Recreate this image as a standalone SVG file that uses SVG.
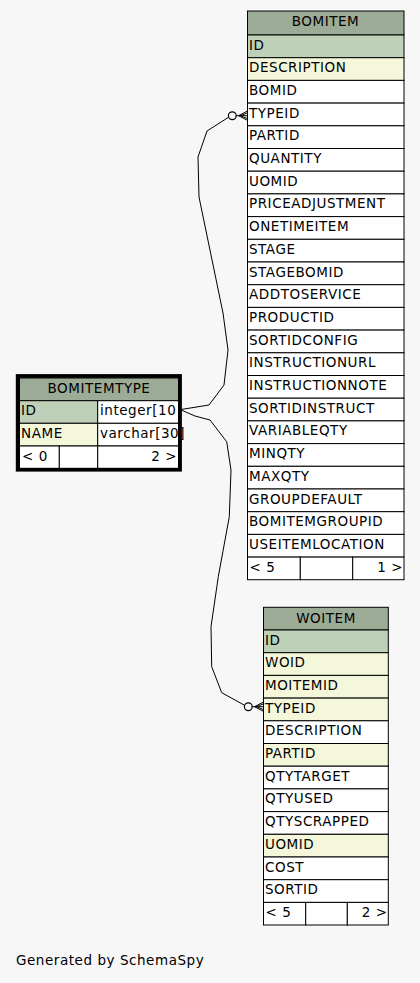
<svg xmlns="http://www.w3.org/2000/svg" width="420" height="983" viewBox="0 0 420 983">
<style>
text{font-family:"DejaVu Sans","Liberation Sans",sans-serif;font-size:13.5px;letter-spacing:0.55px;fill:#000}
.h{fill:#9cab96;stroke:#000;stroke-width:1}
.pk{fill:#bed1b8;stroke:#000;stroke-width:1}
.ix{fill:#f4f7da;stroke:#000;stroke-width:1}
.c{fill:#fff;stroke:#000;stroke-width:1}
.m{text-anchor:middle}
.e{text-anchor:end}
.edge{fill:none;stroke:#000;stroke-width:1;stroke-linejoin:round}
.dot{fill:none;stroke:#000;stroke-width:1.2}
</style>
<rect x="0" y="0" width="420" height="983" fill="#f7f7f7"/>

<g id="connectors">
<polyline class="edge" points="181,409.5 209,405 224,385 228,350 223,313 199,197 198,157 207,131 228.5,117.3"/>
<circle class="dot" cx="232.3" cy="115.7" r="3.9"/>
<path class="edge" d="M236.2,115.7 H238.5 M238.5,115.7 L247,111.3 M238.5,115.7 L247,115.7 M238.5,115.7 L247,120.1 M240.5,115.7 L247,113 M240.5,115.7 L247,118.4" stroke-width="1.3"/>
<polyline class="edge" points="181,410 195,416 210,420 226.7,441.7 231,470 229.3,516.7 218.3,576.7 211,626.7 211.7,666.7 221.7,692.7 244.6,705.3"/>
<circle class="dot" cx="248.3" cy="706.7" r="3.9"/>
<path class="edge" d="M252.2,706.7 H254.5 M254.5,706.7 L263,702.3 M254.5,706.7 L263,706.7 M254.5,706.7 L263,711.1 M256.5,706.7 L263,704 M256.5,706.7 L263,709.4" stroke-width="1.3"/>
</g>

<g id="BOMITEM">
<rect class="h" x="247.5" y="11" width="156.5" height="24"/>
<text class="m" x="325.5" y="26">BOMITEM</text>
<rect class="pk" x="247.5" y="35" width="156.5" height="22.7"/>
<text x="249" y="49.5">ID</text>
<rect class="ix" x="247.5" y="57.7" width="156.5" height="22.7"/>
<text x="249" y="72.2">DESCRIPTION</text>
<rect class="c" x="247.5" y="80.4" width="156.5" height="22.7"/>
<text x="249" y="94.9">BOMID</text>
<rect class="c" x="247.5" y="103.1" width="156.5" height="22.7"/>
<text x="249" y="117.6">TYPEID</text>
<rect class="c" x="247.5" y="125.8" width="156.5" height="22.7"/>
<text x="249" y="140.3">PARTID</text>
<rect class="c" x="247.5" y="148.5" width="156.5" height="22.7"/>
<text x="249" y="163">QUANTITY</text>
<rect class="c" x="247.5" y="171.2" width="156.5" height="22.7"/>
<text x="249" y="185.7">UOMID</text>
<rect class="c" x="247.5" y="193.9" width="156.5" height="22.7"/>
<text x="249" y="208.4">PRICEADJUSTMENT</text>
<rect class="c" x="247.5" y="216.6" width="156.5" height="22.7"/>
<text x="249" y="231.1">ONETIMEITEM</text>
<rect class="c" x="247.5" y="239.3" width="156.5" height="22.7"/>
<text x="249" y="253.8">STAGE</text>
<rect class="c" x="247.5" y="262" width="156.5" height="22.7"/>
<text x="249" y="276.5">STAGEBOMID</text>
<rect class="c" x="247.5" y="284.7" width="156.5" height="22.7"/>
<text x="249" y="299.2">ADDTOSERVICE</text>
<rect class="c" x="247.5" y="307.4" width="156.5" height="22.7"/>
<text x="249" y="321.9">PRODUCTID</text>
<rect class="c" x="247.5" y="330.1" width="156.5" height="22.7"/>
<text x="249" y="344.6">SORTIDCONFIG</text>
<rect class="c" x="247.5" y="352.8" width="156.5" height="22.7"/>
<text x="249" y="367.3">INSTRUCTIONURL</text>
<rect class="c" x="247.5" y="375.5" width="156.5" height="22.7"/>
<text x="249" y="390">INSTRUCTIONNOTE</text>
<rect class="c" x="247.5" y="398.2" width="156.5" height="22.7"/>
<text x="249" y="412.7">SORTIDINSTRUCT</text>
<rect class="c" x="247.5" y="420.9" width="156.5" height="22.7"/>
<text x="249" y="435.4">VARIABLEQTY</text>
<rect class="c" x="247.5" y="443.6" width="156.5" height="22.7"/>
<text x="249" y="458.1">MINQTY</text>
<rect class="c" x="247.5" y="466.3" width="156.5" height="22.7"/>
<text x="249" y="480.8">MAXQTY</text>
<rect class="c" x="247.5" y="489" width="156.5" height="22.7"/>
<text x="249" y="503.5">GROUPDEFAULT</text>
<rect class="c" x="247.5" y="511.7" width="156.5" height="22.7"/>
<text x="249" y="526.2">BOMITEMGROUPID</text>
<rect class="c" x="247.5" y="534.4" width="156.5" height="22.7"/>
<text x="249" y="548.9">USEITEMLOCATION</text>
<rect class="c" x="247.5" y="557.1" width="52.8" height="22.6"/>
<rect class="c" x="300.3" y="557.1" width="52.4" height="22.6"/>
<rect class="c" x="352.7" y="557.1" width="51.3" height="22.6"/>
<text x="249.5" y="571.6">&lt; 5</text>
<text class="e" x="403" y="571.6">1 &gt;</text>
</g>

<g id="BOMITEMTYPE">
<rect class="h" x="19.5" y="378" width="159" height="22.7"/>
<rect class="pk" x="19.5" y="400.7" width="78.2" height="22.6"/>
<rect class="c" x="97.7" y="400.7" width="80.8" height="22.6"/>
<rect class="ix" x="19.5" y="423.3" width="78.2" height="22.7"/>
<rect class="c" x="97.7" y="423.3" width="80.8" height="22.7"/>
<rect class="c" x="19.5" y="446" width="39.8" height="23.5"/>
<rect class="c" x="59.3" y="446" width="38.4" height="23.5"/>
<rect class="c" x="97.7" y="446" width="80.8" height="23.5"/>
<rect x="17.7" y="376" width="162.3" height="93.7" fill="none" stroke="#000" stroke-width="3.8"/>
<text class="m" x="99" y="393.3">BOMITEMTYPE</text>
<text x="21" y="415">ID</text>
<text x="100" y="415">integer[10</text>
<text x="21" y="437.5">NAME</text>
<text x="100" y="437.5">varchar[30]</text>
<text x="22" y="461">&lt; 0</text>
<text class="e" x="177" y="461">2 &gt;</text>
</g>

<g id="WOITEM">
<rect class="h" x="263.5" y="607.3" width="124.8" height="22.7"/>
<text class="m" x="326" y="622.5">WOITEM</text>
<rect class="pk" x="263.5" y="630" width="124.8" height="22.7"/>
<text x="265" y="644.5">ID</text>
<rect class="ix" x="263.5" y="652.7" width="124.8" height="22.7"/>
<text x="265" y="667.2">WOID</text>
<rect class="ix" x="263.5" y="675.4" width="124.8" height="22.7"/>
<text x="265" y="689.9">MOITEMID</text>
<rect class="ix" x="263.5" y="698.1" width="124.8" height="22.7"/>
<text x="265" y="712.6">TYPEID</text>
<rect class="c" x="263.5" y="720.8" width="124.8" height="22.7"/>
<text x="265" y="735.3">DESCRIPTION</text>
<rect class="ix" x="263.5" y="743.5" width="124.8" height="22.7"/>
<text x="265" y="758">PARTID</text>
<rect class="c" x="263.5" y="766.2" width="124.8" height="22.7"/>
<text x="265" y="780.7">QTYTARGET</text>
<rect class="c" x="263.5" y="788.9" width="124.8" height="22.7"/>
<text x="265" y="803.4">QTYUSED</text>
<rect class="c" x="263.5" y="811.6" width="124.8" height="22.7"/>
<text x="265" y="826.1">QTYSCRAPPED</text>
<rect class="ix" x="263.5" y="834.3" width="124.8" height="22.7"/>
<text x="265" y="848.8">UOMID</text>
<rect class="c" x="263.5" y="857" width="124.8" height="22.7"/>
<text x="265" y="871.5">COST</text>
<rect class="c" x="263.5" y="879.7" width="124.8" height="22.7"/>
<text x="265" y="894.2">SORTID</text>
<rect class="c" x="263.5" y="902.4" width="42.2" height="22.6"/>
<rect class="c" x="305.7" y="902.4" width="41.6" height="22.6"/>
<rect class="c" x="347.3" y="902.4" width="41" height="22.6"/>
<text x="265.5" y="916.9">&lt; 5</text>
<text class="e" x="387.5" y="916.9">2 &gt;</text>
</g>

<text x="16" y="965">Generated by SchemaSpy</text>
</svg>
